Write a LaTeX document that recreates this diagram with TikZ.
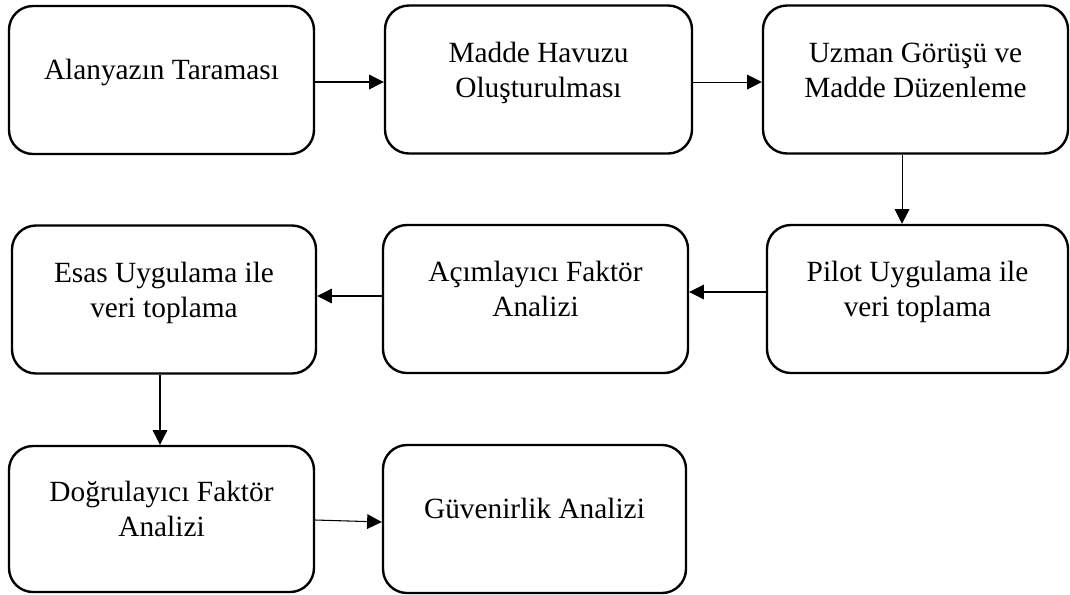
\documentclass[tikz,border=0pt]{standalone}
\usepackage{fontspec}
\setmainfont{Liberation Serif}
\usetikzlibrary{arrows.meta}
\begin{document}
\begin{tikzpicture}[x=0.75pt,y=-0.75pt,
  box/.style={draw, line width=1.8pt, rounded corners=18pt,
    minimum width=228.75pt, minimum height=111pt, inner sep=0pt,
    align=center, font=\fontsize{22}{26.25}\selectfont},
  oneline/.style={text height=15pt, text depth=16.5pt},
  twoline/.style={text height=41.25pt, text depth=15pt},
  conn/.style={line width=0.8pt, -{Triangle[length=11pt,width=11pt]}}]
\useasboundingbox (0,0) rectangle (1070,594);
\node[box, oneline] (b1) at (161.5,80) {Alanyazın Taraması};
\node[box, twoline, minimum width=230.25pt] (b2) at (538.5,79.5) {Madde Havuzu\\Oluşturulması};
\node[box, twoline] (b3) at (915.5,79.5) {Uzman Görüşü ve\\Madde Düzenleme};
\node[box, twoline, minimum width=228pt] (b4) at (164,299.5) {Esas Uygulama ile\\veri toplama};
\node[box, twoline] (b5) at (535.5,299) {Açımlayıcı Faktör\\Analizi};
\node[box, twoline, minimum width=225.75pt] (b6) at (917.5,299) {Pilot Uygulama ile\\veri toplama};
\node[box, twoline, minimum height=109.5pt] (b7) at (161.5,519) {Doğrulayıcı Faktör\\Analizi};
\node[box, oneline, minimum width=227.25pt] (b8) at (534.5,519) {Güvenirlik Analizi};
\draw[conn] ([yshift=-1.5pt]b1.east) -- ([yshift=-1.5pt]b1.east -| b2.west);
\draw[conn] ([yshift=-1.9pt]b2.east) -- ([yshift=-1.9pt]b2.east -| b3.west);
\draw[conn] ([xshift=-10.1pt]b3.south) -- ([xshift=-10.1pt]b3.south |- b6.north);
\draw[conn] ([yshift=5.25pt]b6.west) -- ([yshift=5.25pt]b6.west -| b5.east);
\draw[conn] ([yshift=2.25pt]b5.west) -- ([yshift=2.25pt]b5.west -| b4.east);
\draw[conn] ([xshift=-3pt]b4.south) -- ([xshift=-3pt]b4.south |- b7.north);
\draw[conn] ([yshift=-0.75pt]b7.east) -- ([yshift=-2.25pt]b8.west);
\end{tikzpicture}
\end{document}
